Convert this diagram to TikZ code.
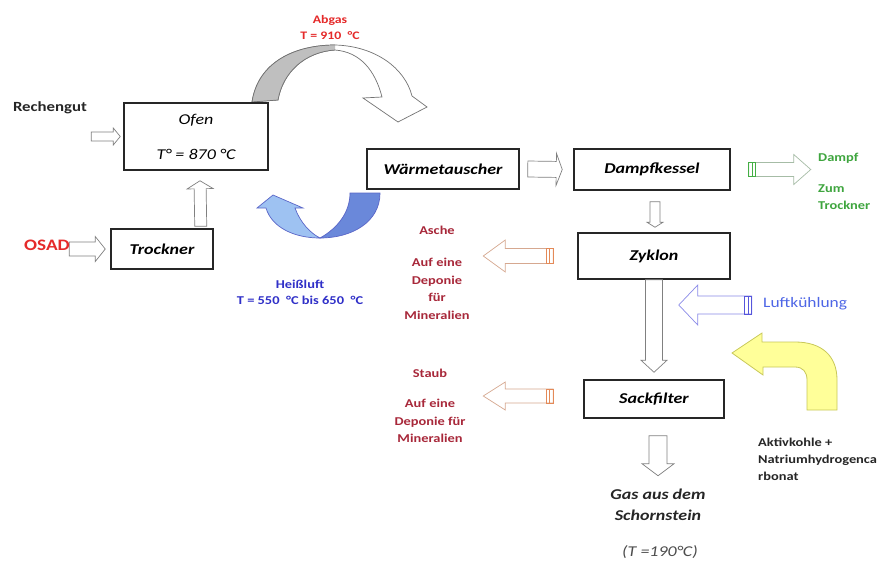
\documentclass[tikz,border=0pt]{standalone}
\usepackage{fontspec}
\setmainfont{Carlito}[FakeStretch=1.2]
\usetikzlibrary{calc}
\definecolor{abred}{HTML}{E52A2A}
\definecolor{ashred}{HTML}{A8283A}
\definecolor{hotblue}{HTML}{3030C8}
\definecolor{lkblue}{HTML}{4E66E6}
\definecolor{stgreen}{HTML}{3EA53E}
\definecolor{ashline}{HTML}{D6A890}
\definecolor{ashstripe}{HTML}{E48A58}
\definecolor{lkline}{HTML}{8A8AE8}
\definecolor{lkstripe}{HTML}{5656DC}
\definecolor{grline}{HTML}{A6BCA6}
\definecolor{grstripe}{HTML}{44AE44}
\definecolor{hlight}{HTML}{9EC2F2}
\definecolor{hdark}{HTML}{6A88DA}
\definecolor{hline}{HTML}{5A66C8}
\definecolor{yfill}{HTML}{FFFF99}
\definecolor{yline}{HTML}{C8C85A}
% block arrow: [style]{from}{to}{shaft half}{head half}{head length}
\newcommand\blockarr[6][]{%
  \coordinate (bah) at ($(#3)!#6!(#2)$);
  \draw[barrow,#1] ($(#2)!#4!90:(#3)$) -- ($(bah)!#4!90:(#3)$) -- ($(bah)!#5!90:(#3)$) -- (#3)
    -- ($(bah)!#5!-90:(#3)$) -- ($(bah)!#4!-90:(#3)$) -- ($(#2)!#4!-90:(#3)$) -- cycle;
}
% tail stripes: {from}{to}{shaft half}{colour}
\newcommand\tailstripes[4]{%
  \coordinate (bsa) at ($(#1)!3.5pt!(#2)$);
  \coordinate (bsb) at ($(#1)!7pt!(#2)$);
  \draw[#4,line width=0.9pt] ($(#1)!#3!90:(#2)$) -- ($(bsb)!#3!90:(#2)$) -- ($(bsb)!#3!-90:(#2)$)
    -- ($(#1)!#3!-90:(#2)$) -- cycle ($(bsa)!#3!90:(#2)$) -- ($(bsa)!#3!-90:(#2)$);
}
\begin{document}
\begin{tikzpicture}[x=1pt,y=-1pt,
  box/.style={draw=black!85,line width=1.5pt,fill=white,inner sep=0pt,
    font=\fontsize{15}{18}\selectfont\bfseries\itshape},
  barrow/.style={draw=black!50,fill=white,line width=0.7pt,line join=miter},
  lbl/.style={inner sep=0pt,align=center},
  small/.style={font=\fontsize{12}{17.5}\selectfont\bfseries},
]
\path[use as bounding box,fill=white] (0,0) rectangle (882,562);

% ---- curved arrows ----
% Abgas (grey ribbon)
\draw[black!55,line width=0.7pt,fill=white] (252,102) .. controls (258,62) and (295,45) .. (335,45)
  .. controls (375,46) and (405,68) .. (412,96) -- (427,107) -- (398,122) -- (363,98) -- (382,97)
  .. controls (375,70) and (360,52) .. (335,50) .. controls (305,52) and (283,72) .. (278,100) -- cycle;
\fill[black!25] (252.5,101.5) .. controls (258,62) and (295,45.5) .. (335,45.5) -- (335,50)
  .. controls (305,52) and (283,72) .. (278,100) -- cycle;
\draw[black!55,line width=0.7pt] (252,102) .. controls (258,62) and (295,45) .. (335,45);
\draw[black!55,line width=0.7pt] (335,50) .. controls (305,52) and (283,72) .. (278,100) -- (252,102);

% Heissluft (blue U)
\draw[hline,line width=0.7pt,fill=hdark] (350,193) -- (380,193) .. controls (380,222) and (352,238) .. (320,238)
  .. controls (338,228) and (350,212) .. (350,193) -- cycle;
\draw[hline,line width=0.7pt,fill=hlight] (320,238) .. controls (295,238) and (272,228) .. (266,208)
  -- (257,208) -- (273,195) -- (303,208) -- (295,208) .. controls (300,222) and (310,233) .. (320,238) -- cycle;

% Aktivkohle (yellow)
\draw[yline,line width=0.8pt,fill=yfill,line join=miter] (732,353) -- (762,333) -- (762,342) -- (795,342)
  .. controls (822,342) and (837,356) .. (837,380) -- (837,410) -- (807,410) -- (807,380)
  .. controls (807,372) and (803,367) .. (795,367) -- (763,367) -- (763,375) -- cycle;

% ---- boxes ----
\node[box,minimum width=144pt,minimum height=67pt,align=center,
  font=\fontsize{15}{18}\selectfont\itshape] (ofen) at (196,136.5) {Ofen\\[17pt]T° = 870 °C};
\node[box,minimum width=102pt,minimum height=40pt] (trockner) at (162,249) {Trockner};
\node[box,minimum width=152pt,minimum height=40pt] (waerme) at (443,169) {Wärmetauscher};
\node[box,minimum width=156pt,minimum height=41pt] (dampf) at (652,169.5) {Dampfkessel};
\node[box,minimum width=152pt,minimum height=46pt] (zyklon) at (654,256) {Zyklon};
\node[box,minimum width=140pt,minimum height=38pt] (sack) at (654,399) {Sackfilter};

% ---- block arrows ----
\coordinate (r1) at ($(ofen.west)+(-32,0)$);
\coordinate (r2) at ($(ofen.west)+(-3,0)$);
\blockarr{r1}{r2}{4.5pt}{8.5pt}{7pt}

\coordinate (o1) at ($(trockner.west)+(-41,0)$);
\coordinate (o2) at ($(trockner.west)+(-5,0)$);
\blockarr{o1}{o2}{7pt}{12.5pt}{10pt}

\coordinate (t1) at ($(trockner.north east)+(-13,-2)$);
\coordinate (t2) at ($(ofen.south)+(4,10)$);
\blockarr{t1}{t2}{6pt}{13pt}{8pt}

\coordinate (w1) at ($(waerme.east)+(8,0)$);
\coordinate (w2) at ($(dampf.west)+(-11,0)$);
\blockarr{w1}{w2}{8pt}{16pt}{6pt}

\coordinate (g1) at ($(dampf.east)+(18,0)$);
\coordinate (g2) at ($(dampf.east)+(80,0)$);
\blockarr[draw=grline]{g1}{g2}{7pt}{15pt}{17pt}
\tailstripes{g1}{g2}{7pt}{grstripe}

\coordinate (d1) at ($(dampf.south)+(3,11)$);
\coordinate (d2) at ($(zyklon.north)+(1,-5)$);
\blockarr{d1}{d2}{5pt}{8pt}{5pt}

\coordinate (a1) at ($(zyklon.west)+(-24,0)$);
\coordinate (a2) at ($(zyklon.west)+(-94,0)$);
\blockarr[draw=ashline]{a1}{a2}{7.5pt}{16pt}{22pt}
\tailstripes{a1}{a2}{7.5pt}{ashstripe}

\coordinate (z1) at (zyklon.south);
\coordinate (z2) at ($(sack.north)+(0,-7)$);
\blockarr{z1}{z2}{8.5pt}{13pt}{12pt}

\coordinate (l1) at ($(zyklon.east)+(21,49)$);
\coordinate (l2) at ($(zyklon.east)+(-52,49)$);
\blockarr[draw=lkline]{l1}{l2}{9pt}{20pt}{19pt}
\tailstripes{l1}{l2}{9pt}{lkstripe}

\coordinate (s1) at ($(sack.west)+(-30,-3)$);
\coordinate (s2) at ($(sack.west)+(-100,-3)$);
\blockarr[draw=ashline]{s1}{s2}{7pt}{14pt}{22pt}
\tailstripes{s1}{s2}{7pt}{ashstripe}

\coordinate (c1) at ($(sack.south)+(4,17)$);
\coordinate (c2) at ($(sack.south)+(4,57)$);
\blockarr{c1}{c2}{9pt}{16pt}{12pt}

% ---- labels ----
\node[lbl,font=\fontsize{14}{17}\selectfont\bfseries,text=black!85] (rech) at (50,108) {Rechengut};
\node[lbl,font=\fontsize{16}{19}\selectfont\bfseries,text=abred] (osad) at (47,245) {OSAD};
\node[lbl,font=\fontsize{11.5}{14}\selectfont\bfseries,text=abred] (abgas1) at (330,20) {Abgas};
\node[lbl,font=\fontsize{11.5}{14}\selectfont\bfseries,text=abred] (abgas2) at (330,36) {T = 910~ °C};
\node[lbl,font=\fontsize{12}{14}\selectfont\bfseries,text=hotblue] (heiss1) at (300,284) {Heißluft};
\node[lbl,font=\fontsize{12}{14}\selectfont\bfseries,text=hotblue] (heiss2) at (300,300) {T = 550~ °C bis 650~ °C};
\node[lbl,small,text=ashred] (asche1) at (437,230) {Asche};
\node[lbl,small,text=ashred] (asche2) at (437,289) {Auf eine\\Deponie\\für\\Mineralien};
\node[lbl,small,text=ashred] (staub1) at (430,373) {Staub};
\node[lbl,small,text=ashred] (staub2) at (430,421) {Auf eine\\Deponie für\\Mineralien};
\node[lbl,small,text=stgreen,anchor=west] (dampf1) at (818,158) {Dampf};
\node[lbl,small,text=stgreen,anchor=west,align=left,font=\fontsize{12}{17}\selectfont\bfseries] (dampf2) at (818,197) {Zum\\Trockner};
\node[lbl,font=\fontsize{14.5}{17}\selectfont,text=lkblue,anchor=west] (luft) at (763,304) {Luftkühlung};
\node[lbl,anchor=west,align=left,font=\fontsize{12}{17}\selectfont\bfseries,text=black!85] (aktiv) at (758,459) {Aktivkohle +\\Natriumhydrogenca\\rbonat};
\node[lbl,font=\fontsize{15}{21}\selectfont\bfseries\itshape,text=black!85] (gas) at (658,505) {Gas aus dem\\Schornstein};
\node[lbl,font=\fontsize{15}{18}\selectfont\itshape,text=black!70] (temp) at (660,552) {(T =190°C)};
\end{tikzpicture}
\end{document}
